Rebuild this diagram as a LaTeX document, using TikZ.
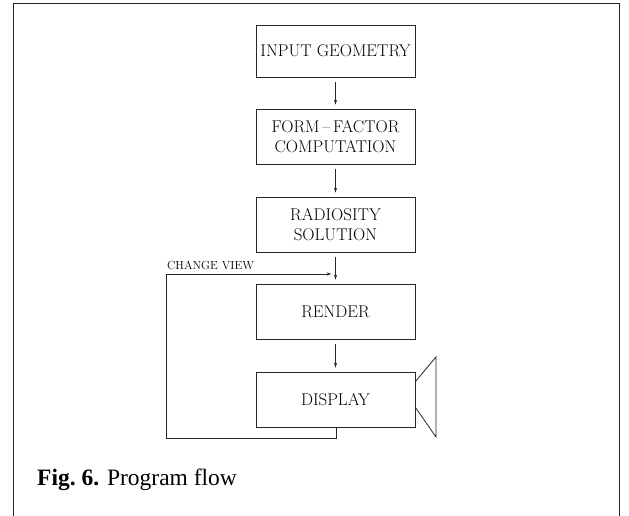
\documentclass[tikz,border=0pt]{standalone}
\usepackage{fontspec}
\newfontfamily\capfont{Liberation Serif}
\usetikzlibrary{arrows.meta}
\tikzset{
  ink/.style={draw=black!85, line width=0.8pt},
  stepbox/.style={ink, rectangle, minimum width=159pt, minimum height=55pt,
    inner sep=0pt, align=center, font=\fontsize{17}{20.5}\selectfont},
  flow/.style={ink, -{Stealth[length=5pt,width=3.2pt]}, shorten <=5pt, shorten >=4pt},
}
\begin{document}
\begin{tikzpicture}[x=1pt,y=-1pt]
  \useasboundingbox (0,0) rectangle (629,516);
  % outer frame, open at the bottom
  \draw[black!85, line width=1pt] (13,520) -- (13,4) -- (619,4) -- (619,520);

  % program steps
  \node[stepbox, minimum height=52pt] (geom) at (335.5,51) {INPUT GEOMETRY};
  \node[stepbox] (ff)   at (335.5,136.5) {FORM\,--\,FACTOR\\COMPUTATION};
  \node[stepbox] (rad)  at (335.5,224.5) {RADIOSITY\\SOLUTION};
  \node[stepbox] (rend) at (335.5,311.5) {RENDER};
  \node[stepbox] (disp) at (335.5,399.5) {DISPLAY};

  % flow arrows
  \draw[flow] (geom) -- (ff);
  \draw[flow] (ff) -- (rad);
  \draw[flow] (rad) -- (rend);
  \draw[flow] (rend) -- (disp);

  % feedback loop from the display back before rendering
  \coordinate (join) at (335.5,274);
  \coordinate (dout) at (336,427);
  \draw[ink, -{Stealth[length=5pt,width=3.2pt]}, shorten >=4pt]
    (dout) -- (336,438) -- (166,438) -- (166,274) -- (join);
  \node[anchor=base west, inner sep=0pt, font=\fontsize{11.7}{13}\selectfont]
    (cv) at (167,269) {CHANGE VIEW};

  % screen attached to the display box
  \draw[ink] ([yshift=-10pt]disp.north east) -- (436,357) -- (436,437)
    -- ([yshift=20pt]disp.south east);

  % caption
  \node[anchor=base west, inner sep=0pt, font=\capfont\fontsize{23.5}{28}\selectfont]
    (cap) at (37,485) {\textbf{Fig.\ 6.} Program flow};
\end{tikzpicture}
\end{document}
